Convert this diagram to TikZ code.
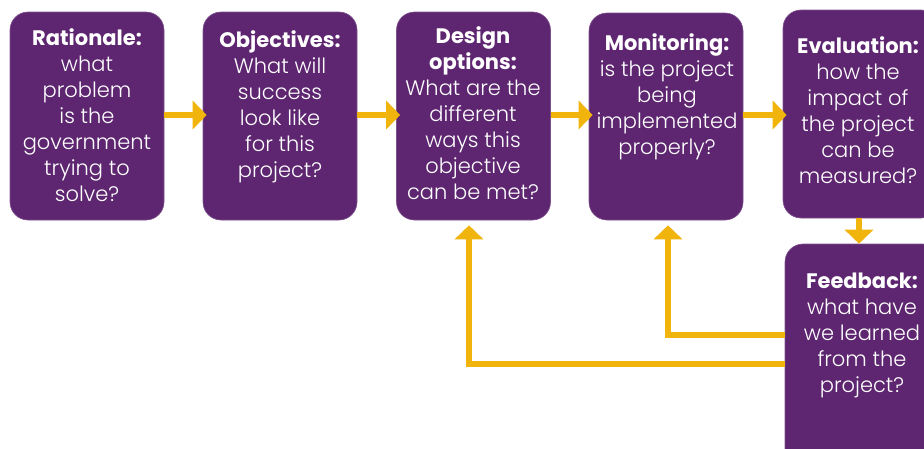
\documentclass[tikz,border=0pt]{standalone}
\usepackage{fontspec}
\setmainfont{Poppins}[UprightFont=* Light, BoldFont=* Bold]
\usetikzlibrary{arrows.meta}
\definecolor{plum}{HTML}{5E2670}
\definecolor{gold}{HTML}{F0B40C}
\tikzset{
  box/.style={fill=plum, draw=plum!80!white, line width=0.6pt, rounded corners=18pt, inner sep=0pt},
  txt/.style={text=white, align=center, inner sep=0pt, font=\fontsize{21}{26}\selectfont},
  flow/.style={draw=gold, line width=6pt, -{Triangle[width=28pt,length=14pt]}},
}
\begin{document}
\begin{tikzpicture}[x=1pt,y=-1pt]
\useasboundingbox (0,0) rectangle (924,448);
\clip (0,0) rectangle (924,448);
\node[box, minimum width=154pt, minimum height=208pt] (b1) at (87,116) {};
\node[box, minimum width=154pt, minimum height=208pt] (b2) at (280,116) {};
\node[box, minimum width=154pt, minimum height=208pt] (b3) at (473.5,116) {};
\node[box, minimum width=154pt, minimum height=207pt] (b4) at (666,116.5) {};
\node[box, minimum width=156pt, minimum height=208pt] (b5) at (861,114) {};
\node[box, minimum width=156pt, minimum height=226pt] (b6) at (863,357) {};

\node[txt] (t1) at (87,115) {\textbf{Rationale:}\\what\\problem\\is the\\government\\trying to\\solve?};
\node[txt] (t2) at (280,107) {\textbf{Objectives:}\\What will\\success\\look like\\for this\\project?};
\node[txt] (t3) at (473,113) {\textbf{Design}\\\textbf{options:}\\What are the\\different\\ways this\\objective\\can be met?};
\node[txt] (t4) at (667,97) {\textbf{Monitoring:}\\is the project\\being\\implemented\\properly?};
\node[txt] (t5) at (858,110) {\textbf{Evaluation:}\\how the\\impact of\\the project\\can be\\measured?};
\node[txt] (t6) at (862,335) {\textbf{Feedback:}\\what have\\we learned\\from the\\project?};

\coordinate (c1) at (469,364);
\coordinate (c2) at (668,335);
\draw[flow] (b1.east |- 0,115) -- ([xshift=4pt]b2.west |- 0,115);
\draw[flow] (b2.east |- 0,115) -- ([xshift=4pt]b3.west |- 0,115);
\draw[flow] (b3.east |- 0,115) -- ([xshift=4pt]b4.west |- 0,115);
\draw[flow] (b4.east |- 0,115) -- ([xshift=4pt]b5.west |- 0,115);
\draw[flow] (b5.south -| 859,0) -- (b6.north -| 859,0);
\draw[flow] (b6.west |- c2) -- (c2) -- ([yshift=-5pt]b4.south -| c2);
\draw[flow] (b6.west |- c1) -- (c1) -- ([yshift=-5pt]b3.south -| c1);
\end{tikzpicture}
\end{document}
